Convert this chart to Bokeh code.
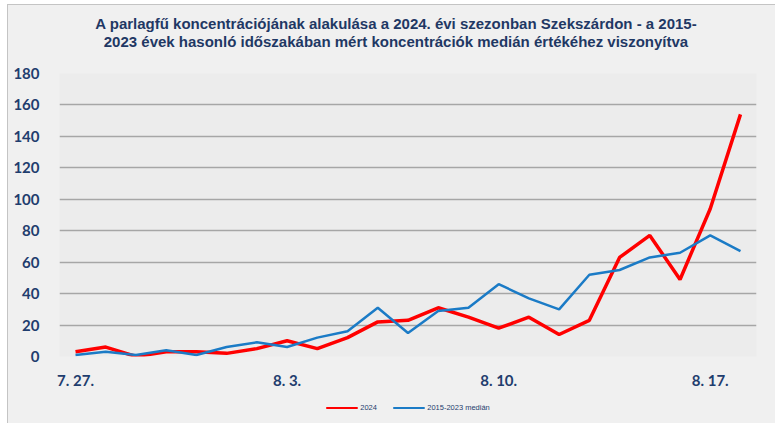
from bokeh.plotting import figure
from bokeh.models import FixedTicker, Legend, LegendItem, Div
from bokeh.layouts import column
from bokeh.embed import file_html
from bokeh.resources import INLINE

dates = ["7. 27.", "7. 28.", "7. 29.", "7. 30.", "7. 31.", "8. 1.", "8. 2.", "8. 3.",
         "8. 4.", "8. 5.", "8. 6.", "8. 7.", "8. 8.", "8. 9.", "8. 10.", "8. 11.",
         "8. 12.", "8. 13.", "8. 14.", "8. 15.", "8. 16.", "8. 17.", "8. 18."]
values_2024 = [3, 6, 0, 3, 3, 2, 5, 10, 5, 12, 22, 23, 31, 25, 18, 25, 14, 23, 63, 77, 49, 94, 154]
median_2015_2023 = [1, 3, 1, 4, 1, 6, 9, 6, 12, 16, 31, 15, 29, 31, 46, 37, 30, 52, 55, 63, 66, 77, 67]
tick_dates = ["7. 27.", "8. 3.", "8. 10.", "8. 17."]
y_ticks = [0, 20, 40, 60, 80, 100, 120, 140, 160, 180]
title_lines = ["A parlagfű koncentrációjának alakulása a 2024. évi szezonban Szekszárdon - a 2015-",
               "2023 évek hasonló időszakában mért koncentrációk medián értékéhez viszonyítva"]
series_names = ["2024", "2015-2023 medián"]

xs = list(range(len(dates)))
TXT = "#1f3d6e"
RED = "#ff0000"
BLUE = "#1b7bc6"
BG = "#f0f0f0"

title = Div(text="<br>".join(title_lines), width=766, height=48,
            styles={"text-align": "center", "font-family": "'Liberation Sans', Arial, sans-serif",
                    "font-size": "15px", "font-weight": "bold", "color": "#1f3864",
                    "line-height": "18px", "padding-top": "5px",
                    "background-color": BG, "width": "766px"})

p = figure(width=766, height=328, output_backend="svg", toolbar_location=None,
           x_range=(-0.53, len(dates) - 0.47), y_range=(0, 180),
           min_border_left=51, min_border_right=18, min_border_top=10, min_border_bottom=35)
p.title = None
p.border_fill_color = BG
p.background_fill_color = "#ececec"
p.outline_line_color = None

p.line(xs, values_2024, line_color=RED, line_width=3.5)
p.line(xs, median_2015_2023, line_color=BLUE, line_width=2.5)

p.yaxis.ticker = FixedTicker(ticks=y_ticks)
p.xaxis.ticker = FixedTicker(ticks=[dates.index(d) for d in tick_dates])
p.xaxis.major_label_overrides = {dates.index(d): d for d in tick_dates}
for ax in (p.xaxis, p.yaxis):
    ax.axis_line_color = None
    ax.major_tick_line_color = None
    ax.minor_tick_line_color = None
    ax.major_label_text_font = "Lato"
    ax.major_label_text_font_style = "bold"
    ax.major_label_text_font_size = "15px"
    ax.major_label_text_color = TXT
p.yaxis.major_label_standoff = 14
p.xaxis.major_label_standoff = 8

p.xgrid.grid_line_color = None
p.ygrid.grid_line_color = "#a6a6a6"
p.ygrid.grid_line_width = 1.5

# legend strip below the chart (series drawn off-range, only their legend keys show)
lg = figure(width=766, height=32, output_backend="svg", toolbar_location=None,
            x_axis_type=None, y_axis_type=None, min_border=0,
            x_range=(0, 1), y_range=(-1000, -999))
lg.border_fill_color = BG
lg.background_fill_color = BG
lg.outline_line_color = None
lg.xgrid.visible = False
lg.ygrid.visible = False
k1 = lg.line(xs, values_2024, line_color=RED, line_width=2)
k2 = lg.line(xs, median_2015_2023, line_color=BLUE, line_width=2)
legend = Legend(items=[LegendItem(label=series_names[0], renderers=[k1]),
                       LegendItem(label=series_names[1], renderers=[k2])],
                orientation="horizontal", location="center",
                label_text_font_size="7.5px", label_text_color=TXT, label_text_font="Liberation Sans",
                glyph_width=32, glyph_height=6, spacing=12, label_standoff=3,
                background_fill_alpha=0, border_line_color=None, padding=0, margin=0)
lg.add_layout(legend)

layout = column(title, p, lg, spacing=0)
layout.styles = {"border": "1px solid #c4c4c4", "margin-left": "7px", "margin-top": "4px",
                 "background-color": BG}

open("out.html", "w").write(file_html(layout, INLINE))
